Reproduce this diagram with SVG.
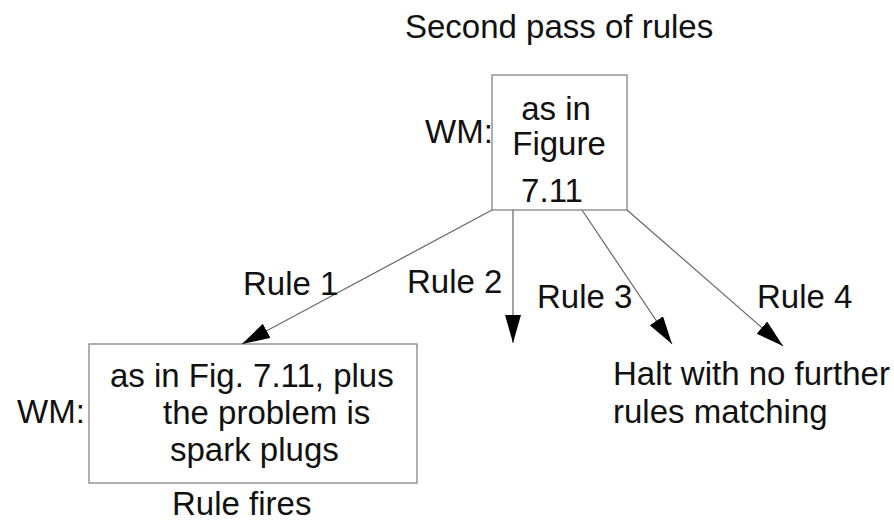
<svg xmlns="http://www.w3.org/2000/svg" width="894" height="526" viewBox="0 0 894 526">
<style>
text{font-family:"Liberation Sans",Arial,sans-serif;font-size:33px;fill:#111}
.box{fill:#fff;stroke:#7a7a7a;stroke-width:1.2}
.edge{stroke:#666;stroke-width:1.2;fill:none;marker-end:url(#ah)}
</style>
<defs>
<marker id="ah" markerUnits="userSpaceOnUse" markerWidth="30" markerHeight="18" refX="28" refY="8" orient="auto">
<path d="M0,0 L28,8 L0,16 z" fill="#000"/>
</marker>
</defs>
<rect width="894" height="526" fill="#fff"/>
<text x="405" y="38">Second pass of rules</text>
<g id="top">
<rect class="box" x="492" y="75" width="135" height="135"/>
<text x="425" y="143">WM:</text>
<text x="556" y="120" text-anchor="middle">as in</text>
<text x="559" y="155" text-anchor="middle">Figure</text>
<text x="552" y="202" text-anchor="middle">7.11</text>
</g>
<g id="fires">
<rect class="box" x="89" y="344" width="328" height="139"/>
<text x="17" y="423">WM:</text>
<text x="110" y="387">as in Fig. 7.11, plus</text>
<text x="163" y="424">the problem is</text>
<text x="170" y="461">spark plugs</text>
<text x="172" y="515">Rule fires</text>
</g>
<g id="halt">
<text x="613" y="385">Halt with no further</text>
<text x="613" y="423">rules matching</text>
</g>
<g id="connectors">
<line class="edge" x1="492" y1="210" x2="242" y2="344"/>
<line class="edge" x1="513" y1="210" x2="513" y2="343"/>
<line class="edge" x1="582" y1="210" x2="672" y2="344"/>
<line class="edge" x1="627" y1="210" x2="783" y2="346"/>
<text x="243" y="295">Rule 1</text>
<text x="407" y="293">Rule 2</text>
<text x="537" y="308">Rule 3</text>
<text x="757" y="308">Rule 4</text>
</g>
</svg>
